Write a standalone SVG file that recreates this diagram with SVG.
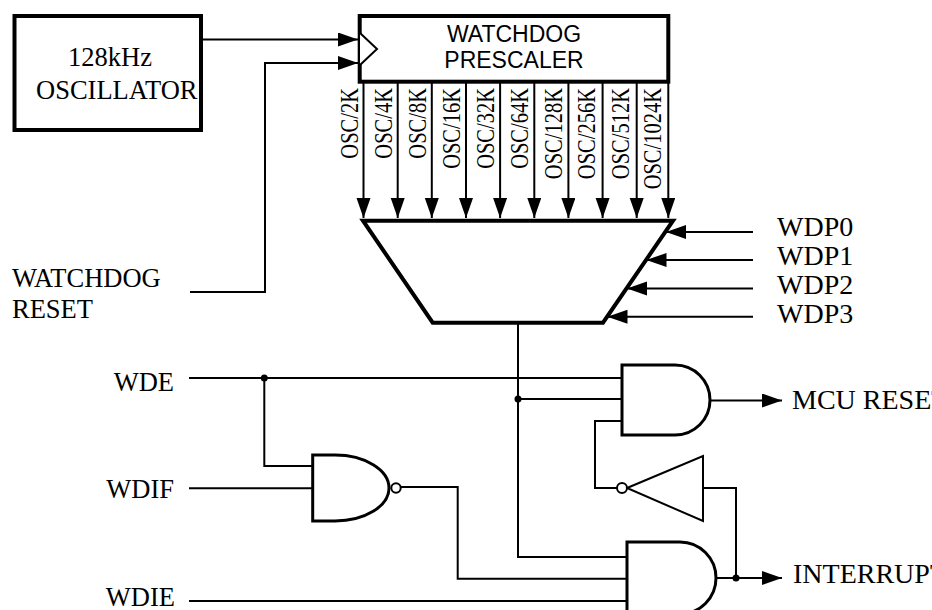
<svg xmlns="http://www.w3.org/2000/svg" width="932" height="610" viewBox="0 0 932 610">
<defs>
<marker id="arr" markerUnits="userSpaceOnUse" markerWidth="20" markerHeight="16" refX="20" refY="7" orient="auto">
<path d="M0,0 L20,7 L0,14 Z" fill="#000"/>
</marker>
<style>
.w{fill:none;stroke:#000;stroke-width:2}
.a{marker-end:url(#arr)}
.box{fill:#fff;stroke:#000;stroke-width:4}
.gate{fill:#fff;stroke:#000;stroke-width:3}
.thin{fill:#fff;stroke:#000;stroke-width:2}
.dot{fill:#000}
.t{font-family:"Liberation Serif","Times New Roman",serif;font-size:26.5px;fill:#000}
.s{font-family:"Liberation Sans",Arial,sans-serif;font-size:23px;fill:#000;text-anchor:middle}
.o{font-family:"Liberation Serif","Times New Roman",serif;font-size:25px;fill:#000;text-anchor:end}
.p{font-family:"Liberation Serif","Times New Roman",serif;font-size:28px;fill:#000}
</style>
</defs>
<rect width="932" height="610" fill="#fff"/>

<g id="connectors">
<path class="w a" d="M202,39.5 H358"/>
<path class="w a" d="M190,292 H265 V63 H358"/>
<path class="w a" d="M363.5,82 V218"/>
<path class="w a" d="M397.7,82 V218"/>
<path class="w a" d="M431.8,82 V218"/>
<path class="w a" d="M466,82 V218"/>
<path class="w a" d="M500.1,82 V218"/>
<path class="w a" d="M534.3,82 V218"/>
<path class="w a" d="M568.4,82 V218"/>
<path class="w a" d="M602.6,82 V218"/>
<path class="w a" d="M636.7,82 V218"/>
<path class="w a" d="M668.3,82 V218"/>
<path class="w a" d="M753,232 H666"/>
<path class="w a" d="M753,260 H646.5"/>
<path class="w a" d="M753,288.5 H627"/>
<path class="w a" d="M753,316.7 H607.5"/>
<path class="w" d="M518,323 V557 H627"/>
<path class="w" d="M518,399 H622"/>
<path class="w" d="M189,378 H622"/>
<path class="w" d="M264.3,378 V466 H313"/>
<path class="w" d="M189,488.3 H313"/>
<path class="w" d="M401,487 H457.7 V578.7 H627"/>
<path class="w" d="M189,601 H627"/>
<path class="w a" d="M710,400.5 H782"/>
<path class="w a" d="M716,578 H782"/>
<path class="w" d="M703,488 H736 V578"/>
<path class="w" d="M617,488 H595 V421 H622"/>
<circle class="dot" cx="264.3" cy="378" r="3.5"/>
<circle class="dot" cx="518" cy="399" r="3.5"/>
<circle class="dot" cx="736" cy="578" r="3.5"/>
</g>

<g id="oscillator">
<rect class="box" x="14.5" y="16" width="186.5" height="114"/>
<text class="t" x="68" y="66">128kHz</text>
<text class="t" x="36" y="99">OSCILLATOR</text>
</g>

<g id="prescaler">
<rect class="box" x="359.7" y="16" width="308.6" height="65.7"/>
<path class="thin" d="M360,33 L377,49 L360,65" fill="none"/>
<text class="s" x="514" y="42">WATCHDOG</text>
<text class="s" x="514" y="68">PRESCALER</text>
</g>

<g id="prescaler-taps">
<text class="o" transform="translate(358,88) rotate(-90) scale(0.82,1)">OSC/2K</text>
<text class="o" transform="translate(392,88) rotate(-90) scale(0.82,1)">OSC/4K</text>
<text class="o" transform="translate(426,88) rotate(-90) scale(0.82,1)">OSC/8K</text>
<text class="o" transform="translate(460,88) rotate(-90) scale(0.82,1)">OSC/16K</text>
<text class="o" transform="translate(494,88) rotate(-90) scale(0.82,1)">OSC/32K</text>
<text class="o" transform="translate(528,88) rotate(-90) scale(0.82,1)">OSC/64K</text>
<text class="o" transform="translate(562,88) rotate(-90) scale(0.82,1)">OSC/128K</text>
<text class="o" transform="translate(595,88) rotate(-90) scale(0.82,1)">OSC/256K</text>
<text class="o" transform="translate(629,88) rotate(-90) scale(0.82,1)">OSC/512K</text>
<text class="o" transform="translate(661,88) rotate(-90) scale(0.82,1)">OSC/1024K</text>
</g>

<g id="mux">
<polygon class="box" points="363,220.7 673,220.7 603,322.7 432.7,322.7"/>
</g>

<g id="wdp-labels">
<text class="p" x="777" y="236">WDP0</text>
<text class="p" x="777" y="265">WDP1</text>
<text class="p" x="777" y="294">WDP2</text>
<text class="p" x="777" y="323">WDP3</text>
</g>

<g id="watchdog-reset">
<text class="t" x="12" y="287">WATCHDOG</text>
<text class="t" x="12" y="318">RESET</text>
</g>

<g id="inputs">
<text class="t" x="174" y="391" text-anchor="end">WDE</text>
<text class="t" x="174" y="498" text-anchor="end">WDIF</text>
<text class="t" x="175" y="606" text-anchor="end">WDIE</text>
</g>

<g id="nand">
<path class="gate" d="M312.7,455 H335 A54,33 0 0 1 335,521 H312.7 Z"/>
<circle class="thin" cx="396" cy="488" r="4.7"/>
</g>

<g id="and-reset">
<path class="gate" d="M622,365 H675 A35,35 0 0 1 675,435 H622 Z"/>
</g>

<g id="and-interrupt">
<path class="gate" d="M627,542 H680 A36,36 0 0 1 680,614 H627 Z"/>
</g>

<g id="inverter">
<polygon class="thin" points="627,488 703,456 703,521"/>
<circle class="thin" cx="622" cy="488" r="5"/>
</g>

<g id="outputs">
<text class="p" x="792" y="409">MCU RESET</text>
<text class="p" x="793" y="583">INTERRUPT</text>
</g>
</svg>
